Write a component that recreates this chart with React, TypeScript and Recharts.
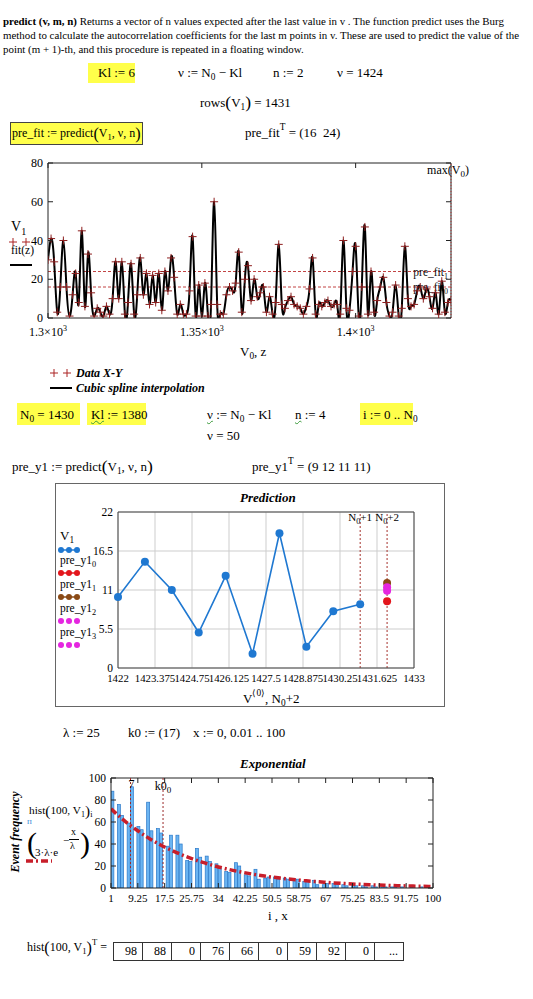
import React from 'react'
import { ComposedChart, Line, Scatter, Bar, XAxis, YAxis, ReferenceLine, CartesianGrid } from 'recharts'

const SERIF = '"Liberation Serif", "Times New Roman", serif'
const YELLOW = '#ffff4a'
const BLUE = '#1f78d1'

// ---- plot 1: V1 against V0 (data + cubic spline) ----
const v0First = 1300
const v1Values = [
  30, 41, 29, 3, 16, 40, 16, 1, 12, 23,
  8, 45, 6, 33, 13, 1, 5, 3, 1, 6,
  2, 10, 29, 10, 29, 2, 8, 28, 2, 12,
  31, 12, 23, 7, 22, 8, 23, 4, 24, 14,
  31, 21, 2, 7, 2, 2, 14, 42, 1, 17,
  1, 18, 1, 7, 60, 7, 2, 2, 12, 16,
  14, 18, 34, 3, 20, 27, 9, 20, 11, 13,
  16, 3, 11, 2, 8, 38, 7, 5, 9, 11,
  7, 6, 5, 2, 6, 15, 31, 2, 7, 6,
  8, 9, 6, 7, 7, 2, 40, 5, 4, 24,
  37, 1, 16, 47, 2, 24, 3, 9, 16, 21,
  8, 1, 3, 17, 1, 5, 37, 10, 6, 7,
  14, 16, 10, 15, 11, 5, 13, 2, 19, 3,
  8, 9,
]
const preFit = [16, 24]
const fitXTicks = [1300, 1350, 1400]
const fitYTicks = [0, 20, 40, 60, 80]

// ---- plot 2: prediction ----
const predV0 = [1422, 1423, 1424, 1425, 1426, 1427, 1428, 1429, 1430, 1431]
const predV1 = [10, 15, 11, 5, 13, 2, 19, 3, 8, 9]
const preY1 = [9.4, 12, 11.4, 10.9]
const preY1Colors = ['#e3161c', '#8a4a16', '#e526e0', '#e526e0']
const predXTicks = [1422, 1423.375, 1424.75, 1426.125, 1427.5, 1428.875, 1430.25, 1431.625, 1433]
const predYTicks = [0, 5.5, 11, 16.5, 22]

// ---- plot 3: histogram + exponential ----
const histCounts = [
  98, 88, 0, 76, 66, 0, 59, 92, 0, 56,
  53, 0, 78, 52, 0, 54, 50, 0, 38, 48,
  0, 48, 40, 0, 25, 24, 0, 36, 28, 0,
  29, 24, 0, 22, 18, 0, 15, 14, 0, 23,
  20, 0, 12, 11, 0, 17, 8, 0, 9, 10,
  0, 10, 8, 0, 9, 8, 0, 8, 8, 0,
  6, 7, 0, 7, 3, 0, 3, 4, 0, 4,
  3, 0, 3, 2, 0, 3, 2, 0, 2, 1,
  0, 2, 1, 0, 1, 1, 0, 1, 1, 0,
  1, 0, 0, 1, 0, 0, 1, 0, 0, 0,
]
const expX = [1, 5, 9, 13, 17, 21, 25, 29, 33, 37, 41, 45, 49, 53, 57, 61, 65, 69, 73, 77, 81, 85, 89, 93, 97, 100]
const expY = [72, 61.4, 52.5, 44.6, 38, 32.4, 27.6, 23.5, 20, 17, 14.5, 12.4, 10.5, 9, 7.7, 6.5, 5.6, 4.7, 4, 3.4, 2.9, 2.5, 2.1, 1.8, 1.5, 1.4]
const histXTicks = [1, 9.25, 17.5, 25.75, 34, 42.25, 50.5, 58.75, 67, 75.25, 83.5, 91.75, 100]
const histYTicks = [0, 20, 40, 60, 80, 100]
const markLines = [7, 17]

// ---------- helpers ----------
function Txt({ x, y, size = 13, children, style }: any) {
  return (
    <div style={{ position: 'absolute', left: x, top: y, transform: 'translateY(-50%)', fontFamily: SERIF, fontSize: size, lineHeight: 1, whiteSpace: 'nowrap', color: '#000', ...style }}>
      {children}
    </div>
  )
}
const Sub = ({ children }: any) => <sub style={{ fontSize: '0.72em', verticalAlign: '-0.35em', lineHeight: 0 }}>{children}</sub>
const Sup = ({ children }: any) => <sup style={{ fontSize: '0.72em', verticalAlign: '0.65em', lineHeight: 0 }}>{children}</sup>
const Par = ({ children }: any) => <span style={{ fontSize: '1.35em', verticalAlign: '-0.1em', lineHeight: 0, fontWeight: 300 }}>{children}</span>
function Box({ x, y, w, h, border }: any) {
  return <div style={{ position: 'absolute', left: x, top: y, width: w, height: h, background: YELLOW, border, boxSizing: 'border-box' }} />
}
const wavy = { textDecoration: 'underline wavy #3a9a3a', textDecorationThickness: 1 }

function YTick(props: any) {
  const { x, y, payload, plotW, fs, gap, inner, fmt } = props
  const ax = x + gap
  const v = payload.value
  return (
    <g>
      <text x={x} y={y} dy={fs * 0.34} textAnchor="end" fontFamily={SERIF} fontSize={fs} fill="#000">{fmt ? fmt(v) : v}</text>
      {inner ? <line x1={ax} x2={ax + 5} y1={y} y2={y} stroke="#222" /> : null}
      {inner ? <line x1={ax + plotW - 5} x2={ax + plotW} y1={y} y2={y} stroke="#222" /> : null}
    </g>
  )
}
function XTick(props: any) {
  const { x, y, payload, plotH, fs, gap, inner, fmt } = props
  const ay = y - gap
  const v = payload.value
  return (
    <g>
      <text x={x} y={y} dy={fs * 0.78} textAnchor="middle" fontFamily={SERIF} fontSize={fs} fill="#000">{fmt ? fmt(v) : v}</text>
      {inner ? <line x1={x} x2={x} y1={ay} y2={ay - 5} stroke="#222" /> : null}
      {inner ? <line x1={x} x2={x} y1={ay - plotH} y2={ay - plotH + 5} stroke="#222" /> : null}
    </g>
  )
}
const sci = (v: number) => [
  <tspan key="m">{`${v / 1000}×10`}</tspan>,
  <tspan key="e" dy={-5} fontSize={8}>3</tspan>,
]
const PlusMark = (p: any) => (
  <path d={`M${p.cx - 4},${p.cy}h8M${p.cx},${p.cy - 4}v8`} stroke="#8e1f1f" strokeWidth={1} fill="none" />
)
const Dot = (p: any) => <circle cx={p.cx} cy={p.cy} r={4} fill={p.fill} />
const HistBar = (p: any) =>
  p.height > 0 ? (
    <rect x={p.x + p.width / 2} y={p.y} width={p.width} height={p.height} fill="#6ab4f2" stroke="#2a78c8" strokeWidth={0.7} />
  ) : null

function MaxLabel(props: any) {
  const vb = props.viewBox
  return (
    <text x={vb.x - 3} y={vb.y + 11} textAnchor="middle" fontFamily={SERIF} fontSize={12}>
      max(V<tspan dy={3} fontSize={9}>0</tspan><tspan dy={-3}>)</tspan>
    </text>
  )
}
function FitLabel(props: any) {
  const vb = props.viewBox
  return (
    <text x={vb.x + vb.width - 3} y={vb.y + 4} textAnchor="end" fontFamily={SERIF} fontSize={11.5} fill="#111">
      pre_fit<tspan dy={3} fontSize={8}>{props.k}</tspan>
    </text>
  )
}
function NLabel(props: any) {
  const vb = props.viewBox
  return (
    <text x={vb.x} y={vb.y + 9} textAnchor="middle" fontFamily={SERIF} fontSize={11}>
      N<tspan dy={3} fontSize={8}>0</tspan><tspan dy={-3}>{`+${props.k}`}</tspan>
    </text>
  )
}
function MarkLabel(props: any) {
  const vb = props.viewBox
  return props.k === 0 ? (
    <text x={vb.x + 1} y={vb.y + 10} textAnchor="middle" fontFamily={SERIF} fontSize={12}>7</text>
  ) : (
    <text x={vb.x} y={vb.y + 12} textAnchor="middle" fontFamily={SERIF} fontSize={12}>
      k0<tspan dy={3} fontSize={9}>0</tspan>
    </text>
  )
}

// ---------- charts ----------
function FitChart() {
  const data = v1Values.map((v, k) => ({ x: v0First + k, v }))
  const xMax = v0First + v1Values.length - 1
  return (
    <ComposedChart width={533} height={220} data={data} margin={{ top: 13, right: 82, bottom: 22, left: 8 }}>
      <XAxis dataKey="x" type="number" domain={[v0First, xMax]} ticks={fitXTicks} interval={0} allowDataOverflow height={30}
        tickSize={0} tickMargin={9} tickLine={false} axisLine={{ stroke: '#222' }}
        tick={<XTick plotH={155} fs={12} gap={9} inner fmt={sci} />} />
      <YAxis type="number" domain={[0, 80]} ticks={fitYTicks} interval={0} allowDataOverflow width={40}
        tickSize={0} tickMargin={5} tickLine={false} axisLine={{ stroke: '#222' }}
        tick={<YTick plotW={403} fs={12} gap={5} inner />} />
      <ReferenceLine y={80} stroke="#222" />
      <ReferenceLine x={xMax} stroke="#222" />
      <ReferenceLine x={xMax} stroke="#b03a3a" strokeDasharray="1 2" label={<MaxLabel />} />
      {preFit.map((p, k) => (
        <ReferenceLine key={k} y={p} stroke="#c24444" strokeDasharray="3 2" label={<FitLabel k={k} />} />
      ))}
      <Line dataKey="v" type="natural" stroke="#000" strokeWidth={2} dot={false} isAnimationActive={false} />
      <Scatter data={data} dataKey="v" shape={<PlusMark />} isAnimationActive={false} />
    </ComposedChart>
  )
}

function PredChart() {
  const data = predV0.map((x, k) => ({ x, v: predV1[k] }))
  return (
    <ComposedChart width={390} height={224} data={data} margin={{ top: 29, right: 31, bottom: 19, left: 33 }}>
      <CartesianGrid stroke="#cdcdcd" />
      <XAxis dataKey="x" type="number" domain={[1422, 1433]} ticks={predXTicks} interval={0} height={20}
        tickSize={0} tickMargin={6} tickLine={false} axisLine={{ stroke: '#444' }}
        tick={<XTick plotH={156} fs={10.8} gap={6} />} />
      <YAxis type="number" domain={[0, 22]} ticks={predYTicks} interval={0} width={30}
        tickSize={0} tickMargin={5} tickLine={false} axisLine={{ stroke: '#444' }}
        tick={<YTick plotW={295} fs={11.5} gap={5} />} />
      <ReferenceLine y={22} stroke="#444" />
      <ReferenceLine x={1433} stroke="#444" />
      <ReferenceLine x={1431} stroke="#a5312b" strokeDasharray="2 2" label={<NLabel k={1} />} />
      <ReferenceLine x={1432} stroke="#a5312b" strokeDasharray="2 2" label={<NLabel k={2} />} />
      <Line dataKey="v" stroke={BLUE} strokeWidth={1.6} dot={{ r: 4, fill: BLUE, stroke: BLUE, strokeWidth: 0 }} isAnimationActive={false} />
      {preY1.map((p, k) => (
        <Scatter key={k} data={[{ x: 1432, p }]} dataKey="p" fill={preY1Colors[k]} shape={<Dot />} isAnimationActive={false} />
      ))}
    </ComposedChart>
  )
}

function HistChart() {
  const rows = new Map<number, any>()
  histCounts.forEach((c, i) => {
    if (i >= 1 && c > 0) rows.set(i, { x: i, c })
  })
  expX.forEach((x, k) => rows.set(x, { ...(rows.get(x) || { x }), y: expY[k] }))
  const data = [...rows.values()].sort((a, b) => a.x - b.x)
  return (
    <ComposedChart width={533} height={140} data={data} margin={{ top: 8, right: 100, bottom: 2, left: 81 }}>
      <XAxis dataKey="x" type="number" domain={[1, 100]} ticks={histXTicks} interval={0} allowDataOverflow height={20}
        tickSize={0} tickMargin={5} tickLine={false} axisLine={{ stroke: '#222' }}
        tick={<XTick plotH={110} fs={11} gap={5} inner />} />
      <YAxis type="number" domain={[0, 100]} ticks={histYTicks} interval={0} allowDataOverflow width={30}
        tickSize={0} tickMargin={5} tickLine={false} axisLine={{ stroke: '#222' }}
        tick={<YTick plotW={322} fs={11.5} gap={5} inner />} />
      <ReferenceLine y={100} stroke="#222" />
      <ReferenceLine x={100} stroke="#222" />
      <Bar dataKey="c" barSize={3} shape={<HistBar />} isAnimationActive={false} />
      {markLines.map((m, k) => (
        <ReferenceLine key={m} x={m} stroke="#9a2a2a" strokeDasharray="2 2" label={<MarkLabel k={k} />} />
      ))}
      <Line dataKey="y" type="monotone" connectNulls stroke="#c81e2a" strokeWidth={3.5} strokeDasharray="7 3 2 3" dot={false} isAnimationActive={false} />
    </ComposedChart>
  )
}

function DotsIcon({ x, y, color, line = true }: any) {
  return (
    <svg style={{ position: 'absolute', left: x, top: y - 4 }} width={24} height={8}>
      {line ? <line x1={4} x2={20} y1={4} y2={4} stroke={color} strokeWidth={1.5} /> : null}
      {[4, 12, 20].map((cx) => <circle key={cx} cx={cx} cy={4} r={3} fill={color} />)}
    </svg>
  )
}
function PlusIcon({ x, y }: any) {
  return (
    <svg style={{ position: 'absolute', left: x, top: y - 5 }} width={24} height={10}>
      <path d="M1,5h8M5,1v8M14,5h8M18,1v8" stroke="#a22" strokeWidth={1} fill="none" />
    </svg>
  )
}

export default function App() {
  const bi = { fontWeight: 'bold', fontStyle: 'italic' }
  return (
    <div style={{ position: 'absolute', left: 0, top: 0, width: 533, height: 999, background: '#fff', overflow: 'hidden' }}>
      {/* description */}
      <Txt x={3} y={21} size={10.9}><b>predict (v, m, n)</b> Returns a vector of n values expected after the last value in v . The function predict uses the Burg</Txt>
      <Txt x={3} y={35} size={10.9}>method to calculate the autocorrelation coefficients for the last m points in v. These are used to predict the value of the</Txt>
      <Txt x={3} y={49} size={10.9}>point (m + 1)-th, and this procedure is repeated in a floating window.</Txt>

      <Box x={88} y={63} w={47} h={20} />
      <Txt x={98} y={72}>Kl := 6</Txt>
      <Txt x={178} y={72}>ν := N<Sub>0</Sub> − Kl</Txt>
      <Txt x={273} y={72}>n := 2</Txt>
      <Txt x={337} y={72}>ν = 1424</Txt>
      <Txt x={200} y={102}>rows<Par>(</Par>V<Sub>1</Sub><Par>)</Par> = 1431</Txt>
      <Box x={10} y={122} w={133} h={23} border="1px solid #444" />
      <Txt x={12} y={133} size={12}>pre_fit := predict<Par>(</Par>V<Sub>1</Sub>, ν, n<Par>)</Par></Txt>
      <Txt x={245} y={132}>pre_fit<Sup>T</Sup> = (16&nbsp;&nbsp;24)</Txt>

      {/* plot 1 */}
      <div style={{ position: 'absolute', left: 0, top: 150 }}><FitChart /></div>
      <Txt x={11} y={227} size={14}>V<Sub>1</Sub></Txt>
      <PlusIcon x={8} y={242} />
      <Txt x={11} y={251} size={11.5}>fit(z)</Txt>
      <div style={{ position: 'absolute', left: 10, top: 264, width: 22, height: 2, background: '#000' }} />
      <Txt x={240} y={351} size={13}>V<Sub>0</Sub>, z</Txt>
      <PlusIcon x={49} y={373} />
      <Txt x={76} y={373} size={12} style={bi}>Data X-Y</Txt>
      <div style={{ position: 'absolute', left: 50, top: 387, width: 22, height: 2, background: '#000' }} />
      <Txt x={76} y={388} size={12} style={bi}>Cubic spline interpolation</Txt>

      {/* parameters */}
      <Box x={17} y={403} w={63} h={22} />
      <Txt x={20} y={414}>N<Sub>0</Sub> = 1430</Txt>
      <Box x={87} y={403} w={59} h={22} />
      <Txt x={91} y={414}><span style={wavy}>Kl</span> := 1380</Txt>
      <Txt x={207} y={414}><span style={wavy}>ν</span> := N<Sub>0</Sub> − Kl</Txt>
      <Txt x={295} y={414}><span style={wavy}>n</span> := 4</Txt>
      <Box x={360} y={403} w={53} h={22} />
      <Txt x={363} y={414}>i := 0 .. N<Sub>0</Sub></Txt>
      <Txt x={207} y={435}>ν = 50</Txt>
      <Txt x={12} y={466}>pre_y1 := predict<Par>(</Par>V<Sub>1</Sub>, ν, n<Par>)</Par></Txt>
      <Txt x={252} y={466}>pre_y1<Sup>T</Sup> = ({preY1.map((p) => Math.round(p)).join('  ')})</Txt>

      {/* plot 2 */}
      <div style={{ position: 'absolute', left: 55, top: 483 }}><PredChart /></div>
      <div style={{ position: 'absolute', left: 55, top: 483, width: 390, height: 224, border: '1px solid #666', boxSizing: 'border-box' }} />
      <Txt x={240} y={497} size={13} style={bi}>Prediction</Txt>
      <Txt x={60} y={535} size={13}>V<Sub>1</Sub></Txt>
      <DotsIcon x={57} y={550} color={BLUE} />
      {preY1Colors.map((c, k) => (
        <React.Fragment key={k}>
          <Txt x={60} y={561 + 24 * k} size={11.5}>pre_y1<Sub>{k}</Sub></Txt>
          <DotsIcon x={57} y={573 + 24 * k} color={c} line={k < 2} />
        </React.Fragment>
      ))}
      <Txt x={243} y={698} size={13}>V<Sup>⟨0⟩</Sup>, N<Sub>0</Sub>+2</Txt>

      {/* exponential parameters */}
      <Txt x={63} y={732}>λ := 25</Txt>
      <Txt x={128} y={732}>k0 := (17)</Txt>
      <Txt x={193} y={732}>x := 0, 0.01 .. 100</Txt>

      {/* plot 3 */}
      <Txt x={240} y={763} size={13} style={bi}>Exponential</Txt>
      <div style={{ position: 'absolute', left: 0, top: 770 }}><HistChart /></div>
      <div style={{ position: 'absolute', left: 15, top: 832, transform: 'translate(-50%, -50%) rotate(-90deg)', fontFamily: SERIF, fontSize: 12, whiteSpace: 'nowrap', ...bi }}>Event frequency</div>
      <Txt x={29} y={811} size={11.3}>hist<Par>(</Par>100, V<Sub>1</Sub><Par>)</Par><Sub>i</Sub></Txt>
      <Txt x={27} y={821} size={9} style={{ color: '#3a8ad8' }}>п</Txt>
      <Txt x={27} y={843} size={30} style={{ fontWeight: 300 }}>(</Txt>
      <Txt x={35} y={852} size={11}>3·λ·e</Txt>
      <Txt x={63} y={840} size={11}>−</Txt>
      <Txt x={71} y={832} size={10}>x</Txt>
      <div style={{ position: 'absolute', left: 69, top: 839, width: 10, height: 1, background: '#000' }} />
      <Txt x={70} y={846} size={10}>λ</Txt>
      <Txt x={80} y={843} size={30} style={{ fontWeight: 300 }}>)</Txt>
      <svg style={{ position: 'absolute', left: 26, top: 858 }} width={26} height={6}>
        <line x1={0} x2={26} y1={3} y2={3} stroke="#c81e2a" strokeWidth={3.5} strokeDasharray="7 3 2 3" />
      </svg>
      <Txt x={268} y={915} size={13}>i , x</Txt>

      {/* hist table */}
      <Txt x={27} y={947} size={12}>hist<Par>(</Par>100, V<Sub>1</Sub><Par>)</Par><Sup>T</Sup> =</Txt>
      <div style={{ position: 'absolute', left: 113, top: 942, display: 'flex', border: '1px solid #333', fontFamily: SERIF, fontSize: 12 }}>
        {[...histCounts.slice(0, 9).map(String), '...'].map((s, k) => (
          <div key={k} style={{ width: 28, height: 17, lineHeight: '17px', textAlign: 'right', borderLeft: k ? '1px solid #333' : 'none', boxSizing: 'content-box' }}>
            <span style={{ paddingRight: 5 }}>{s}</span>
          </div>
        ))}
      </div>
    </div>
  )
}
